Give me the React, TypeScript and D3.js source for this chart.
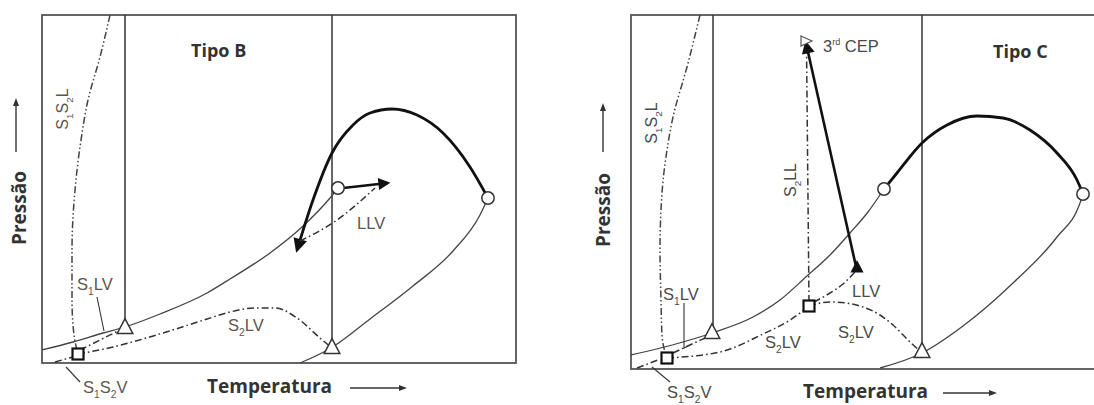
import React from 'react';
import * as d3 from 'd3';

type Pt = [number, number];

// ---------- Tipo B (left panel) : T, P in diagram units (origin = bottom-left corner of frame)
const B_LV1: Pt[] = [[0, 13], [31, 21], [61, 30], [83, 36], [118, 49], [165, 70], [188, 84], [228, 110], [260, 136], [288, 165], [296, 175]];
const B_CRIT: Pt[] = [[255, 113], [271, 163], [290, 210], [311, 238], [328, 250], [350, 254], [375, 248], [401, 230], [428, 196], [446, 165]];
const B_LV2: Pt[] = [[258, 0], [289, 15], [328, 44], [371, 77], [411, 112], [438, 148], [446, 165]];
const B_S1S2L: Pt[] = [[68, 348], [58, 306], [46, 263], [39, 223], [33, 173], [30, 113], [30, 63], [32, 28], [36, 9]];
const B_S2LV: Pt[] = [[36, 9], [71, 16], [121, 30], [165, 44], [188, 51], [213, 55], [233, 55], [255, 45], [278, 25], [290, 15]];
const B_S1LV: Pt[] = [[38, 13], [78, 33]];
const B_S1S2V: Pt[] = [[13, 1], [31, 6]];
const B_LLV: Pt[] = [[258, 122], [295, 143], [333, 175]];
const B_BRANCH: Pt[] = [[301, 175], [346, 180]];
const B_MELT = [83, 290];
const B_TRI: Pt[] = [[83, 35], [290, 15]];
const B_CIRC: Pt[] = [[296, 175], [446, 165]];
const B_SQ: Pt[] = [[36, 9]];
const B_LEADERS: Pt[][] = [[[55, 66], [62, 32]], [[38, -19], [24, -4]]];

// ---------- Tipo C (right panel)
const C_LV1: Pt[] = [[0, 14], [52, 27], [81, 36], [122, 52], [149, 69], [176, 93], [199, 114], [219, 136], [237, 157], [253, 180]];
const C_CRIT: Pt[] = [[253, 180], [266, 196], [291, 226], [316, 244], [346, 253], [372, 251], [399, 239], [426, 216], [446, 189], [452, 175]];
const C_LV2: Pt[] = [[249, 1], [291, 16], [332, 43], [382, 86], [426, 132], [449, 166], [452, 175]];
const C_S1S2L: Pt[] = [[69, 354], [56, 302], [42, 252], [36, 219], [31, 176], [29, 119], [30, 69], [31, 34], [34, 17], [36, 11]];
const C_S2LV_A: Pt[] = [[36, 11], [89, 17], [132, 35], [159, 49], [178, 63]];
const C_S2LV_B: Pt[] = [[178, 63], [199, 67], [215, 66], [232, 62], [249, 54], [262, 44], [279, 27], [290, 17]];
const C_S1LV: Pt[] = [[42, 16], [76, 32]];
const C_S1S2V: Pt[] = [[6, 1], [27, 9]];
const C_LLV: Pt[] = [[183, 67], [199, 76], [212, 85], [224, 97]];
const C_S2LL: Pt[] = [[178, 67], [175.5, 323]];
const C_CEPLINE: Pt[] = [[226, 98], [175, 326]];
const C_MELT = [82, 291];
const C_TRI: Pt[] = [[81, 36], [291, 17]];
const C_CIRC: Pt[] = [[253, 180], [452, 175]];
const C_SQ: Pt[] = [[36, 11], [178, 63]];
const C_CEP: Pt = [175, 328];
const C_LLVEND: Pt = [226, 101];
const C_LEADERS: Pt[][] = [[[53, 66], [53, 21], [57, 23]], [[39, -13], [21, 2]]];

// ---------- labels  [text, T, P, rotated]
type Lab = [string, number, number, boolean];
const B_LABELS: Lab[] = [
  ['S_1S_2L', 26, 254, true],
  ['S_1LV', 35, 73, false],
  ['S_2LV', 186, 32, false],
  ['LLV', 315, 134, false],
  ['S_1S_2V', 41, -30, false],
];
const C_LABELS: Lab[] = [
  ['S_1S_2L', 26, 246, true],
  ['S_2LL', 165, 189, true],
  ['3^rd CEP', 192, 317, false],
  ['LLV', 221, 72, false],
  ['S_2LV', 207, 31, false],
  ['S_2LV', 134, 21, false],
  ['S_1LV', 32, 69, false],
  ['S_1S_2V', 36, -29, false],
];

const panels = [
  { frame: { x0: 42, y0: 15, x1: 516, y1: 363 }, title: 'Tipo B', titleX: 191, titleY: 57,
    lv1: B_LV1, crit: B_CRIT, lv2: B_LV2, s1s2l: B_S1S2L, dashes: [B_S2LV, B_S1LV, B_S1S2V, B_LLV],
    melt: B_MELT, tri: B_TRI, circ: B_CIRC, sq: B_SQ, leaders: B_LEADERS, labels: B_LABELS,
    labelColor: '#5e554e', presX: 26, presY: 208, arrowX: 16, arrowY0: 152, arrowY1: 98,
    tempX: 207, tempY: 393, tArrowX0: 350, tArrowX1: 407, tArrowY: 388 },
  { frame: { x0: 631, y0: 15, x1: 1100, y1: 369 }, title: 'Tipo C', titleX: 993, titleY: 58,
    lv1: C_LV1, crit: C_CRIT, lv2: C_LV2, s1s2l: C_S1S2L, dashes: [C_S2LV_A, C_S2LV_B, C_S1LV, C_S1S2V, C_LLV, C_S2LL],
    melt: C_MELT, tri: C_TRI, circ: C_CIRC, sq: C_SQ, leaders: C_LEADERS, labels: C_LABELS,
    labelColor: '#4a4a4a', presX: 610, presY: 210, arrowX: 603, arrowY0: 152, arrowY1: 103,
    tempX: 803, tempY: 398, tArrowX0: 943, tArrowX1: 997, tArrowY: 393 },
];

function richText(label: string, size: number) {
  const out: React.ReactNode[] = [];
  const re = /_(\w)|\^(\w+)|([^_^]+)/g;
  let m: RegExpExecArray | null;
  let shift = 0;
  let k = 0;
  while ((m = re.exec(label))) {
    if (m[1]) {
      out.push(<tspan key={k++} dy={0.32 * size - shift} fontSize={size * 0.62}>{m[1]}</tspan>);
      shift = 0.32 * size;
    } else if (m[2]) {
      out.push(<tspan key={k++} dy={-0.42 * size - shift} fontSize={size * 0.55}>{m[2]}</tspan>);
      shift = -0.42 * size;
    } else {
      out.push(<tspan key={k++} dy={-shift}>{m[3]}</tspan>);
      shift = 0;
    }
  }
  return out;
}

const BOLD = "'Open Sans', 'Noto Sans', sans-serif";
const SANS = "'Liberation Sans', Arial, sans-serif";

function Panel({ p }: { p: any }) {
  const f = p.frame;
  const W = f.x1 - f.x0, H = f.y1 - f.y0;
  const x = d3.scaleLinear().domain([0, W]).range([f.x0, f.x1]);
  const y = d3.scaleLinear().domain([0, H]).range([f.y1, f.y0]);
  const curveX = d3.line<Pt>().x(d => x(d[0])).y(d => y(d[1])).curve(d3.curveMonotoneX);
  const curveY = d3.line<Pt>().x(d => x(d[0])).y(d => y(d[1])).curve(d3.curveMonotoneY);
  const straight = d3.line<Pt>().x(d => x(d[0])).y(d => y(d[1]));
  const sx = (d: Pt[]) => curveX([...d].sort((a, b) => a[0] - b[0])) || '';
  const sy = (d: Pt[]) => curveY([...d].sort((a, b) => b[1] - a[1])) || '';
  const dashDot = '7,3,1.6,3';
  const dashDotDot = '7,2.5,1.5,2.5,1.5,2.5';
  const tri = (c: Pt, s: number) => {
    const cx = x(c[0]), cy = y(c[1]);
    return `M${cx},${cy - s * 0.72}L${cx + s * 0.6},${cy + s * 0.42}L${cx - s * 0.6},${cy + s * 0.42}Z`;
  };
  const isB = p.title === 'Tipo B';
  return (
    <g>
      <rect x={f.x0} y={f.y0} width={W} height={H} fill="none" stroke="#555" strokeWidth={1.8} />
      {p.melt.map((t: number, i: number) => (
        <line key={'m' + i} x1={x(t)} x2={x(t)} y1={f.y0} y2={y(p.tri[i][1]) - 4} stroke="#333" strokeWidth={1.5} />
      ))}
      <path d={sx(p.lv1)} fill="none" stroke="#444" strokeWidth={1.3} />
      <path d={sx(p.lv2)} fill="none" stroke="#444" strokeWidth={1.3} />
      <path d={sx(p.crit)} fill="none" stroke="#111" strokeWidth={2.8}
        markerStart={isB ? 'url(#ah)' : undefined} />
      <path d={sy(p.s1s2l)} fill="none" stroke="#444" strokeWidth={1.5} strokeDasharray={dashDotDot} />
      {p.dashes.map((d: Pt[], i: number) => (
        <path key={'d' + i} d={(d.length > 2 ? sx(d) : straight(d)) || ''} fill="none" stroke="#333" strokeWidth={1.5} strokeDasharray={dashDot} />
      ))}
      {p.leaders.map((d: Pt[], i: number) => (
        <path key={'l' + i} d={straight(d) || ''} fill="none" stroke="#333" strokeWidth={1.1} />
      ))}
      {isB && (
        <path d={straight(B_BRANCH) || ''} fill="none" stroke="#111" strokeWidth={2.4} markerEnd="url(#ah)" />
      )}
      {!isB && (
        <g>
          <path d={straight(C_CEPLINE) || ''} fill="none" stroke="#111" strokeWidth={2.6} markerEnd="url(#ah)" />
          <path d={`M${x(C_CEP[0]) - 5},${y(C_CEP[1]) - 5}L${x(C_CEP[0]) + 6},${y(C_CEP[1])}L${x(C_CEP[0]) - 5},${y(C_CEP[1]) + 5}Z`} fill="#fff" stroke="#555" strokeWidth={1.2} />
          <path d={tri(C_LLVEND, 11)} fill="#111" />
        </g>
      )}
      {p.tri.map((c: Pt, i: number) => (
        <path key={'t' + i} d={tri(c, 13)} fill="#fff" stroke="#333" strokeWidth={1.5} />
      ))}
      {p.circ.map((c: Pt, i: number) => (
        <circle key={'c' + i} cx={x(c[0])} cy={y(c[1])} r={6.2} fill="#fff" stroke="#333" strokeWidth={1.5} />
      ))}
      {p.sq.map((c: Pt, i: number) => (
        <rect key={'s' + i} x={x(c[0]) - 5.5} y={y(c[1]) - 5.5} width={11} height={11} fill="#fff" stroke="#111" strokeWidth={2.2} />
      ))}
      {p.labels.map((l: Lab, i: number) => (
        l[3] ? (
          <text key={'lab' + i} transform={`translate(${x(l[1])},${y(l[2])}) rotate(-90)`} textAnchor="middle"
            fontFamily={SANS} fontSize={16} fill={p.labelColor}>{richText(l[0], 16)}</text>
        ) : (
          <text key={'lab' + i} x={x(l[1])} y={y(l[2])} fontFamily={SANS} fontSize={16.5} fill={p.labelColor}>{richText(l[0], 16.5)}</text>
        )
      ))}
      <text x={p.titleX} y={p.titleY} fontFamily={BOLD} fontWeight="bold" fontSize={18} fill="#333">{p.title}</text>
      <text transform={`translate(${p.presX},${p.presY}) rotate(-90)`} textAnchor="middle" fontFamily={BOLD} fontWeight="bold" fontSize={19} fill="#333">Pressão</text>
      <line x1={p.arrowX} x2={p.arrowX} y1={p.arrowY0} y2={p.arrowY1 + 6} stroke="#333" strokeWidth={1.4} />
      <path d={`M${p.arrowX},${p.arrowY1}L${p.arrowX + 3},${p.arrowY1 + 8}L${p.arrowX - 3},${p.arrowY1 + 8}Z`} fill="#333" />
      <text x={p.tempX} y={p.tempY} fontFamily={BOLD} fontWeight="bold" fontSize={19} fill="#333">Temperatura</text>
      <line x1={p.tArrowX0} x2={p.tArrowX1 - 6} y1={p.tArrowY} y2={p.tArrowY} stroke="#333" strokeWidth={1.4} />
      <path d={`M${p.tArrowX1},${p.tArrowY}L${p.tArrowX1 - 8},${p.tArrowY - 3}L${p.tArrowX1 - 8},${p.tArrowY + 3}Z`} fill="#333" />
    </g>
  );
}

export default function App() {
  return (
    <svg width={1094} height={405} style={{ position: 'absolute', left: 0, top: 0, background: '#fff' }}>
      <defs>
        <marker id="ah" viewBox="0 0 10 10" refX="8" refY="5" markerWidth="6" markerHeight="5" orient="auto-start-reverse" markerUnits="strokeWidth">
          <path d="M0,0L10,5L0,10Z" fill="#111" />
        </marker>
      </defs>
      {panels.map((p, i) => <Panel key={i} p={p} />)}
    </svg>
  );
}
